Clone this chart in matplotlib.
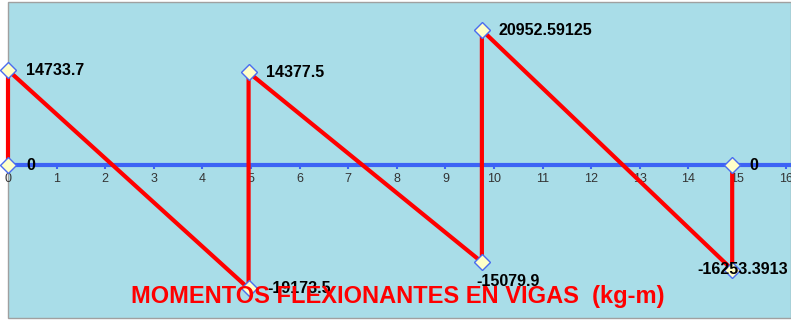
import matplotlib
matplotlib.use("Agg")
import matplotlib.pyplot as plt
from matplotlib.patches import Rectangle

plt.rcParams['font.family'] = ['Liberation Sans', 'DejaVu Sans']

# Data
x_pos = [0, 0, 4.95, 4.95, 9.75, 9.75, 14.9, 14.9]
moments = [0, 14733.7, -19173.5, 14377.5, -15079.9, 20952.59125, -16253.3913, 0]
labels = ["0", "14733.7", "-19173.5", "14377.5", "-15079.9", "20952.59125", "-16253.3913", "0"]
xticks = list(range(0, 17))
title = "MOMENTOS FLEXIONANTES EN VIGAS  (kg-m)"

W, H = 791, 322
fig = plt.figure(figsize=(W / 100, H / 100), dpi=100)
fig.patch.set_facecolor('white')
left_px, right_px, top_px, bottom_px = 8, 791, 2, 318
ax = fig.add_axes([left_px / W, (H - bottom_px) / H, (right_px - left_px) / W, (bottom_px - top_px) / H])
ax.set_facecolor('#a9dde8')

ax.set_xlim(0, 16.11)
ax.set_ylim(-23760, 25315)

for s in ['left', 'right', 'top']:
    ax.spines[s].set_visible(False)
ax.spines['bottom'].set_position(('data', 0))
ax.spines['bottom'].set_color('#3d63f5')
ax.spines['bottom'].set_linewidth(3)
ax.spines['bottom'].set_zorder(2)
ax.add_patch(Rectangle((0, 0), 1, 1, transform=ax.transAxes, fill=False,
                       edgecolor='#a0a0a0', linewidth=1, zorder=0.5, clip_on=False))

ax.set_xticks(xticks)
ax.set_xticklabels([str(t) for t in xticks])
ax.tick_params(axis='x', direction='out', length=3, width=1.5, color='#3d63f5',
               labelsize=9, labelcolor='#333333', pad=3)
ax.set_yticks([])

ax.plot(x_pos, moments, color='#ff0000', linewidth=3, zorder=3,
        solid_capstyle='butt', clip_on=False)
ax.plot(x_pos, moments, linestyle='none', marker='D', markersize=8,
        markerfacecolor='#ffffc8', markeredgecolor='#4a6cf0', markeredgewidth=1,
        zorder=4, clip_on=False)

k = 0.72  # px -> pt
offsets = [
    (18, 0, 'left'),
    (18, 0, 'left'),
    (19, 0, 'left'),
    (17, 0, 'left'),
    (-6, -19, 'left'),
    (17, 0, 'left'),
    (-35, 0, 'left'),
    (17, 0, 'left'),
]
for xv, yv, lab, (dx, dy, ha) in zip(x_pos, moments, labels, offsets):
    ax.annotate(lab, (xv, yv), xytext=(dx * k, dy * k), textcoords='offset points',
                ha=ha, va='center', fontsize=11.5, fontweight='bold', color='black',
                zorder=5, annotation_clip=False)

fig.text(398 / W, 1 - 297 / H, title, ha='center', va='center', fontsize=17,
         fontweight='bold', color='#ff0000')

fig.savefig('out.png', dpi=100)
